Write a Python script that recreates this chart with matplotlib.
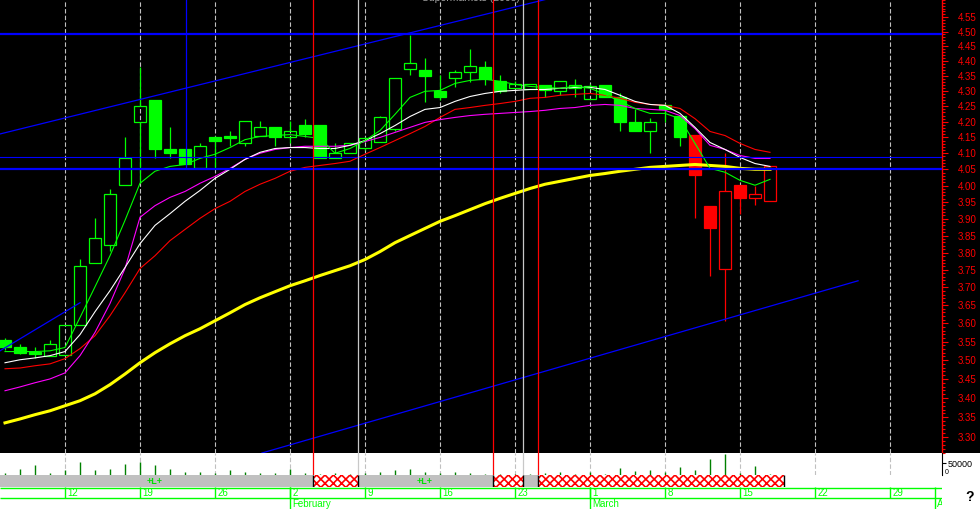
import numpy as np
import matplotlib
matplotlib.use('Agg')
import matplotlib.pyplot as plt
from matplotlib.patches import Rectangle
from matplotlib.ticker import FixedLocator, FormatStrFormatter, NullFormatter

plt.rcParams['font.family'] = ['Liberation Sans', 'DejaVu Sans']

# ---------------- data (trading-day index, 0 = Mon 12 Jan) ----------------
days = list(range(-4, 48))
opens = [3.553, 3.534, 3.523, 3.512, 3.514, 3.594, 3.771, 3.823, 4.001, 4.198,
         4.269, 4.112, 4.112, 4.053, 4.150, 4.153, 4.131, 4.153, 4.182, 4.150,
         4.191, 4.191, 4.084, 4.100, 4.118, 4.134, 4.178, 4.372, 4.369, 4.299,
         4.342, 4.362, 4.379, 4.332, 4.309, 4.305, 4.319, 4.299, 4.309, 4.273,
         4.319, 4.279, 4.198, 4.169, 4.253, 4.220, 4.159, 3.939, 3.754, 4.001,
         3.961, 3.952]
highs = [3.561, 3.544, 3.534, 3.553, 3.594, 3.782, 3.901, 3.991, 4.150, 4.379,
         4.269, 4.182, 4.112, 4.131, 4.155, 4.172, 4.201, 4.201, 4.182, 4.201,
         4.210, 4.191, 4.131, 4.131, 4.150, 4.220, 4.342, 4.488, 4.409, 4.352,
         4.369, 4.439, 4.399, 4.352, 4.332, 4.322, 4.319, 4.332, 4.339, 4.322,
         4.319, 4.295, 4.240, 4.211, 4.259, 4.220, 4.159, 3.939, 4.100, 4.001,
         3.998, 4.059]
lows = [3.528, 3.517, 3.506, 3.512, 3.514, 3.594, 3.771, 3.806, 4.001, 4.007,
        4.084, 4.084, 4.068, 4.053, 4.053, 4.122, 4.122, 4.153, 4.122, 4.131,
        4.150, 4.084, 4.084, 4.100, 4.110, 4.134, 4.172, 4.352, 4.263, 4.269,
        4.312, 4.329, 4.319, 4.292, 4.309, 4.305, 4.279, 4.286, 4.279, 4.273,
        4.279, 4.172, 4.169, 4.100, 4.198, 4.122, 3.901, 3.734, 3.605, 3.915,
        3.942, 3.952]
closes = [3.534, 3.520, 3.517, 3.544, 3.594, 3.762, 3.844, 3.973, 4.084, 4.250,
          4.112, 4.100, 4.068, 4.122, 4.140, 4.148, 4.201, 4.182, 4.150, 4.169,
          4.162, 4.084, 4.100, 4.131, 4.147, 4.214, 4.342, 4.392, 4.349, 4.279,
          4.362, 4.382, 4.339, 4.299, 4.322, 4.322, 4.302, 4.332, 4.319, 4.316,
          4.279, 4.198, 4.169, 4.198, 4.240, 4.150, 4.031, 3.871, 3.982, 3.961,
          3.973, 4.059]
candle_colors = ['#00ff00'] * 46 + ['#ff0000'] * 6

ma_green = [3.523, 3.523, 3.523, 3.525, 3.534, 3.616, 3.702, 3.791, 3.895, 4.007,
            4.044, 4.059, 4.065, 4.084, 4.097, 4.118, 4.143, 4.153, 4.156, 4.159,
            4.153, 4.147, 4.100, 4.115, 4.140, 4.172, 4.224, 4.279, 4.299, 4.302,
            4.325, 4.335, 4.339, 4.332, 4.322, 4.315, 4.312, 4.309, 4.315, 4.309,
            4.289, 4.266, 4.243, 4.227, 4.227, 4.210, 4.131, 4.053, 4.041, 4.016,
            4.001, 4.019]
ma_white = [3.493, 3.501, 3.506, 3.512, 3.523, 3.569, 3.632, 3.691, 3.757, 3.826,
            3.880, 3.915, 3.952, 3.985, 4.022, 4.050, 4.081, 4.103, 4.115, 4.118,
            4.118, 4.115, 4.115, 4.125, 4.140, 4.162, 4.188, 4.217, 4.240, 4.246,
            4.266, 4.282, 4.292, 4.299, 4.302, 4.305, 4.305, 4.309, 4.312, 4.312,
            4.305, 4.286, 4.266, 4.256, 4.253, 4.227, 4.182, 4.134, 4.112, 4.087,
            4.068, 4.059]
ma_magenta = [3.419, 3.429, 3.440, 3.450, 3.466, 3.512, 3.575, 3.655, 3.754, 3.904,
              3.939, 3.964, 3.982, 4.007, 4.028, 4.053, 4.081, 4.100, 4.112, 4.118,
              4.122, 4.122, 4.122, 4.125, 4.137, 4.150, 4.166, 4.182, 4.198, 4.207,
              4.214, 4.220, 4.224, 4.227, 4.230, 4.233, 4.237, 4.243, 4.246, 4.253,
              4.256, 4.253, 4.243, 4.240, 4.237, 4.220, 4.178, 4.125, 4.112, 4.093,
              4.084, 4.084]
ma_red = [3.477, 3.479, 3.485, 3.490, 3.504, 3.531, 3.566, 3.621, 3.685, 3.754,
          3.791, 3.835, 3.868, 3.901, 3.930, 3.952, 3.982, 4.004, 4.022, 4.044,
          4.056, 4.062, 4.068, 4.075, 4.097, 4.118, 4.140, 4.162, 4.185, 4.214,
          4.240, 4.246, 4.253, 4.259, 4.266, 4.276, 4.279, 4.286, 4.289, 4.292,
          4.286, 4.276, 4.263, 4.256, 4.253, 4.243, 4.210, 4.169, 4.156, 4.131,
          4.112, 4.103]
ma_yellow = [3.336, 3.346, 3.357, 3.367, 3.380, 3.393, 3.411, 3.435, 3.463, 3.493,
             3.520, 3.544, 3.566, 3.585, 3.607, 3.629, 3.652, 3.671, 3.688, 3.705,
             3.719, 3.734, 3.748, 3.762, 3.780, 3.803, 3.829, 3.850, 3.871, 3.892,
             3.909, 3.927, 3.945, 3.961, 3.976, 3.991, 4.004, 4.013, 4.022, 4.031,
             4.037, 4.044, 4.050, 4.056, 4.059, 4.062, 4.065, 4.062, 4.059, 4.053,
             4.050, 4.050]

volumes = [8300, 25000, 41700, 8300, 20800, 54200, 20800, 25000, 45800, 54200,
           41700, 25000, 12500, 12500, 8300, 20800, 12500, 8300, 8300, 25000,
           8300, 4200, 8300, 4200, 8300, 12500, 20800, 25000, 12500, 8300,
           12500, 8300, 4200, 4200, 4200, 4200, 8300, 12500, 2100, 12500,
           4200, 29200, 16700, 20800, 12500, 33300, 20800, 66700, 87500, 8300,
           37500, 2100]

week_pos = [0, 5, 10, 15, 20, 25, 30, 35, 40, 45, 50, 55]
week_labels = ['12', '19', '26', '2', '9', '16', '23', '1', '8', '15', '22', '29']
month_pos = [15, 35, 58]
month_labels = ['February', 'March', 'April']

price_ticks = np.round(np.arange(3.30, 4.551, 0.05), 2)
price_minor = np.round(np.arange(3.26, 4.611, 0.01), 2)
vol_ticks = [50000]

hline_levels = [4.491, 4.087, 4.051]
hline_widths = [1.6, 0.8, 1.6]
upper_trend = ([-4.333, 40.0], [4.161, 4.717])
lower_trend = ([13.13, 52.87], [3.260, 3.719])
short_trend = ([-4.333, 1.0], [3.525, 3.657])

event_x = [16.5, 19.5, 28.5, 30.5, 31.5]
event_colors = ['#ff0000', '#c8c8c8', '#ff0000', '#c8c8c8', '#ff0000']
blue_event_x = 8.07
blue_event_top = 4.051

hatch_spans = [(16.5, 19.5), (28.5, 30.5), (31.5, 47.9)]
gray_spans = [(-4.4, 16.5), (19.5, 28.5), (30.5, 31.5)]
band_labels_x = [6, 24]

# ---------------- figure layout ----------------
W, H = 980, 509
fig = plt.figure(figsize=(W / 100, H / 100), dpi=100, facecolor='white')
fig.add_artist(Rectangle((942 / W, 56 / H), 38 / W, 453 / H, transform=fig.transFigure,
                         facecolor='black', edgecolor='none', zorder=-5))

ax = fig.add_axes([0, 56 / H, 942 / W, 453 / H], facecolor='black')
axv = fig.add_axes([0, 34 / H, 942 / W, 22 / H], facecolor='white')
axb = fig.add_axes([0, 22 / H, 942 / W, 12 / H], facecolor='white')
axd = fig.add_axes([0, 0, 942 / W, 22 / H], facecolor='white')

XMIN, XMAX = -65 / 15, (942 - 65) / 15
for a in (ax, axv, axb, axd):
    a.set_xlim(XMIN, XMAX)
    a.set_xticks([])
    for s in a.spines.values():
        s.set_visible(False)

# ---------------- price panel ----------------
ax.set_yscale('log')
ax.set_ylim(3.260, 4.610)

dash = (0, (4, 2))
for w in week_pos:
    ax.axvline(w, color='#c0c0c0', lw=0.8, ls=dash, zorder=1)
    axv.axvline(w, color='#c0c0c0', lw=0.8, ls=dash, zorder=1)

# candles
o = np.array(opens); c = np.array(closes); hi = np.array(highs); lo = np.array(lows)
top = np.maximum(o, c); bot = np.minimum(o, c)
d = np.array(days)
ax.vlines(d, top, hi, colors=candle_colors, lw=0.9, zorder=3)
ax.vlines(d, lo, bot, colors=candle_colors, lw=0.9, zorder=3)
faces = [col if cc < oo else 'none' for col, cc, oo in zip(candle_colors, closes, opens)]
ax.bar(d, top - bot, bottom=bot, width=0.86, color=faces, edgecolor=candle_colors,
       linewidth=0.9, zorder=3)

# moving averages
ax.plot(d, ma_yellow, color='#ffff00', lw=2.2, zorder=4)
ax.plot(d, ma_red, color='#ff0000', lw=0.8, zorder=4)
ax.plot(d, ma_magenta, color='#ff00ff', lw=0.8, zorder=4)
ax.plot(d, ma_white, color='#ffffff', lw=0.8, zorder=4)
ax.plot(d, ma_green, color='#00ff00', lw=0.8, zorder=4)

# horizontal and trend lines
for lvl, lw in zip(hline_levels, hline_widths):
    ax.axhline(lvl, color='#0000ff', lw=lw, zorder=5)
for tx, ty in (upper_trend, lower_trend, short_trend):
    ax.plot(tx, ty, color='#0000ff', lw=0.9, zorder=5)

# event lines
for ex, ec in zip(event_x, event_colors):
    ax.axvline(ex, color=ec, lw=0.9, zorder=6)
    axv.axvline(ex, color=ec, lw=0.9, zorder=6)
ax.vlines(blue_event_x, blue_event_top, 4.7, color='#0000ff', lw=0.9, zorder=6)

# right axis
ax.yaxis.tick_right()
ax.spines['right'].set_visible(True)
ax.spines['right'].set_color('#ff0000')
ax.spines['right'].set_linewidth(1.0)
ax.yaxis.set_major_locator(FixedLocator(price_ticks))
ax.yaxis.set_minor_locator(FixedLocator(price_minor))
ax.yaxis.set_major_formatter(FormatStrFormatter('%.2f'))
ax.yaxis.set_minor_formatter(NullFormatter())
ax.tick_params(axis='y', which='major', colors='#ff0000', length=4.3, width=0.8,
               pad=7, labelsize=7)
ax.tick_params(axis='y', which='minor', colors='#ff0000', length=2.2, width=0.8)

ax.text(0.5, 1.004, 'Supermarkets (2003)', transform=ax.transAxes, ha='center', va='center',
        color='#a0a0a0', fontsize=7.5, clip_on=True)

# ---------------- volume panel ----------------
axv.set_ylim(0, 91700)
axv.vlines(d, 0, volumes, color='#008000', lw=1.0, zorder=3)
axv.yaxis.tick_right()
axv.spines['right'].set_visible(True)
axv.spines['right'].set_color('black')
axv.spines['right'].set_linewidth(0.8)
axv.set_yticks(vol_ticks)
axv.set_yticklabels(['50000'])
axv.tick_params(axis='y', colors='black', length=3, width=0.8, pad=1, labelsize=6.5)
fig.text(945 / W, 1 - 472 / H, '0', fontsize=5, color='black', va='center')

# ---------------- status band ----------------
axb.set_ylim(0, 1)
axb.set_yticks([])
for a0, a1 in gray_spans:
    axb.axvspan(a0, a1, facecolor='#c0c0c0', edgecolor='none', lw=0)
plt.rcParams['hatch.linewidth'] = 1.2
for a0, a1 in hatch_spans:
    axb.axvspan(a0, a1, facecolor='white', edgecolor='#ff0000', hatch='xxxx', lw=0)
axb.vlines([s for span in hatch_spans for s in span], 0, 1, color='black', lw=1.0)
for bx in band_labels_x:
    axb.text(bx, 0.45, '+L+', color='#00e000', fontsize=6.5, fontweight='bold',
             ha='center', va='center')

# ---------------- date axis ----------------
axd.set_ylim(0, 22)
axd.set_yticks([])
axd.hlines([11, 21.5], XMIN, XMAX, color='#00ff00', lw=1.0)
axd.vlines(week_pos, 11, 22, color='#00ff00', lw=1.0)
axd.vlines(month_pos, 0, 22, color='#00ff00', lw=1.0)
for wp, wl in zip(week_pos, week_labels):
    axd.text(wp + 0.15, 16.3, wl, color='#00ff00', fontsize=7, va='center', ha='left',
             clip_on=True)
for mp, ml in zip(month_pos, month_labels):
    axd.text(mp + 0.15, 5.3, ml, color='#00ff00', fontsize=7, va='center', ha='left',
             clip_on=True)

fig.text(970 / W, 1 - 497 / H, '?', fontsize=10, fontweight='bold', color='black',
         ha='center', va='center')

fig.savefig('out.png', dpi=100, facecolor='white')
